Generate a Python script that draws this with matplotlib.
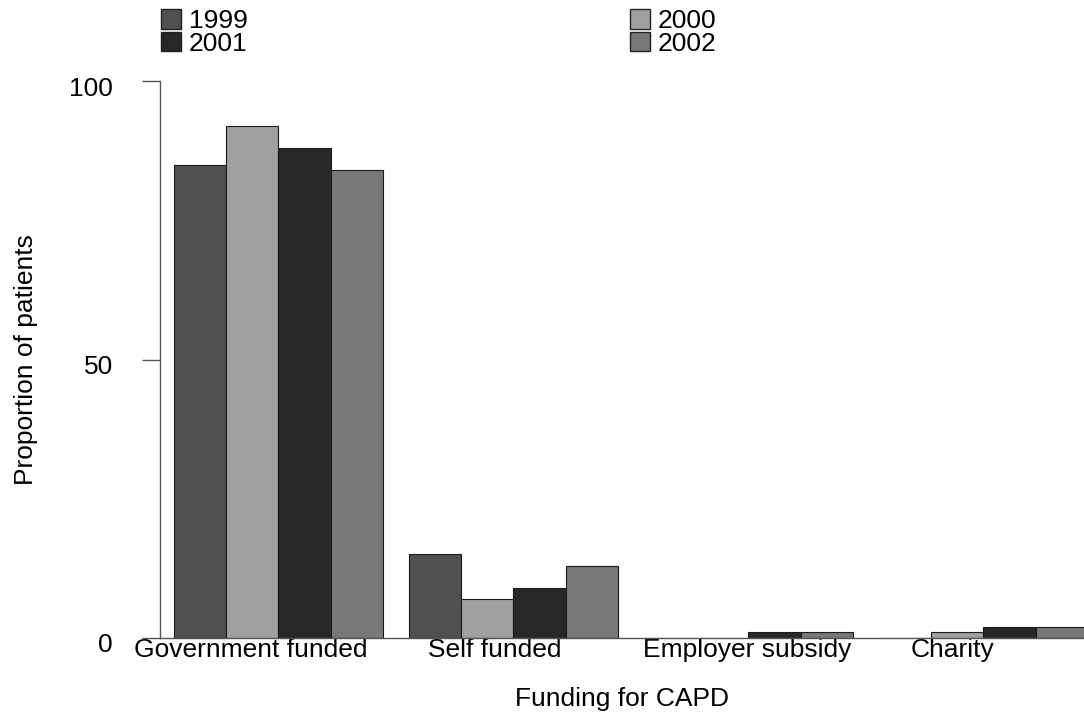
import matplotlib
matplotlib.use("Agg")
import matplotlib.pyplot as plt
import matplotlib.transforms as mtransforms
import numpy as np
from matplotlib.patches import Patch

categories = ["Government funded", "Self funded", "Employer subsidy", "Charity"]
years = ["1999", "2000", "2001", "2002"]
values = {
    "1999": [85, 15, 0, 0],
    "2000": [92, 7, 0, 1],
    "2001": [88, 9, 1, 2],
    "2002": [84, 13, 1, 2],
}
colors = {"1999": "#505050", "2000": "#a0a0a0", "2001": "#282828", "2002": "#787878"}
yticks = [0, 50, 100]

FS = 19
plt.rcParams['font.family'] = ['Liberation Sans', 'DejaVu Sans']
fig = plt.figure(figsize=(10.84, 7.26), dpi=100)
ax = fig.add_axes([160/1084, 88/726, 1 - 160/1084, (638-81)/726])

x = np.arange(len(categories))
bw = 0.2225
for i, y in enumerate(years):
    ax.bar(x + (i - 1.5) * bw, values[y], width=bw, color=colors[y],
           edgecolor="#1a1a1a", linewidth=0.8, label=y)

ax.set_xlim(-0.504, 3.428)
ax.set_ylim(0, 100)
for s in ["top", "right"]:
    ax.spines[s].set_visible(False)
for s in ["left", "bottom"]:
    ax.spines[s].set_color("#555555")
    ax.spines[s].set_linewidth(1.0)

ax.set_yticks(yticks)
ax.set_yticklabels([str(v) for v in yticks], fontsize=FS)
ax.tick_params(axis="y", length=13, width=1.0, color="#555555", pad=21)
offset = mtransforms.ScaledTranslation(0, -0.05, fig.dpi_scale_trans)
for lab in ax.get_yticklabels():
    lab.set_transform(lab.get_transform() + offset)

label_pos = [-0.117, 0.921, 1.994, 2.870]
ax.set_xticks(label_pos)
ax.set_xticklabels(categories, fontsize=FS)
ax.tick_params(axis="x", length=0, pad=0)

ax.set_xlabel("Funding for CAPD", fontsize=FS, labelpad=18)
ax.set_ylabel("Proportion of patients", fontsize=FS, labelpad=22)

def make_handles(ys):
    return [Patch(facecolor=colors[y], edgecolor="#222222", linewidth=1.0, label=y) for y in ys]

common = dict(loc="upper left", frameon=False, fontsize=FS, handlelength=0.76,
              handleheight=0.76, handletextpad=0.3, labelspacing=-0.05,
              borderpad=0, borderaxespad=0)
fig.legend(handles=make_handles(["1999", "2001"]),
           bbox_to_anchor=(161/1084, 1 - 9/726), **common)
fig.legend(handles=make_handles(["2000", "2002"]),
           bbox_to_anchor=(630/1084, 1 - 9/726), **common)

fig.savefig("out.png", dpi=100)
